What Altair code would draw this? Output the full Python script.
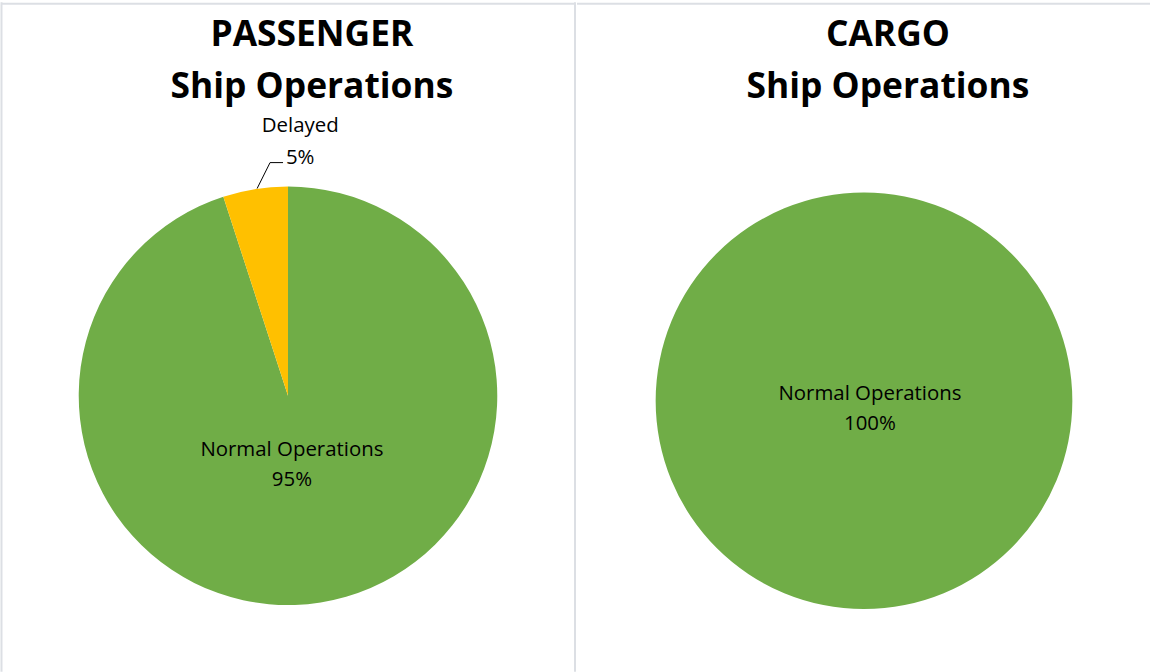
import altair as alt
import pandas as pd

# ---- data ----
categories = ["Normal Operations", "Delayed"]
passenger_values = [95, 5]
cargo_categories = ["Normal Operations"]
cargo_values = [100]
titles = [["PASSENGER", "Ship Operations"], ["CARGO", "Ship Operations"]]
colors = ["#70AD47", "#FFC000"]

FONT = "Open Sans"
BORDER = "#dcdfe4"


def make_df(cats, vals):
    df = pd.DataFrame({"category": cats, "value": vals})
    df["idx"] = range(len(df))
    return df


def panel(df, title_lines, cx, cy, r, inner_r, inner_dx, inner_dy, width, left_border):
    base = alt.Chart(df).encode(
        theta=alt.Theta("value:Q", stack=True),
        order=alt.Order("idx:Q"),
        x=alt.value(cx),
        y=alt.value(cy),
    )
    arc = base.mark_arc(outerRadius=r).encode(
        color=alt.Color(
            "category:N",
            scale=alt.Scale(domain=categories, range=colors),
            legend=None,
        )
    )
    inner = base.transform_calculate(
        lab="datum.category == 'Normal Operations' ? datum.category + '\\n' + datum.value + '%' : ''"
    ).mark_text(
        radius=inner_r, dx=inner_dx, dy=inner_dy, font=FONT, fontSize=20.5,
        color="#000000", lineBreak="\n", lineHeight=30, baseline="middle",
    ).encode(text="lab:N")
    outer = base.transform_calculate(
        lab="datum.category == 'Delayed' ? datum.category + '\\n' + datum.value + '%' : ''"
    ).mark_text(
        radius=254, dx=52, dy=-20, font=FONT, fontSize=20.5,
        color="#000000", lineBreak="\n", lineHeight=32, baseline="middle",
    ).encode(text="lab:N")

    tdf = pd.DataFrame({"t": ["\n".join(title_lines)]})
    title = alt.Chart(tdf).mark_text(
        font=FONT, fontSize=35.5, fontWeight="bold", color="#000000",
        lineBreak="\n", lineHeight=52, baseline="middle",
    ).encode(text="t:N", x=alt.value(cx + 24), y=alt.value(33))

    top = alt.Chart(tdf).mark_rule(color=BORDER, strokeWidth=2).encode(
        x=alt.value(0), x2=alt.value(width), y=alt.value(1.5)
    )
    layers = [arc, inner, outer, title, top]
    if left_border:
        layers.append(
            alt.Chart(tdf).mark_rule(color=BORDER, strokeWidth=2).encode(
                x=alt.value(0.5), y=alt.value(0), y2=alt.value(672)
            )
        )
        layers.append(
            alt.Chart(tdf).mark_rule(color=BORDER, strokeWidth=2).encode(
                x=alt.value(576), y=alt.value(0), y2=alt.value(672)
            )
        )
    return alt.layer(*layers).properties(width=width, height=672)


pdf = make_df(categories, passenger_values)
cdf = make_df(cargo_categories, cargo_values)

left = panel(pdf, titles[0], 288, 395, 210, 70, -7, -15, 576, True)
right_base = panel(cdf, titles[1], 288, 400, 209, 0, 6, -7, 575, False)

# leader line for the "Delayed" label
leader_df = pd.DataFrame({"k": [0]})
leader1 = alt.Chart(leader_df).mark_rule(color="#000000", strokeWidth=1).encode(
    x=alt.value(257), y=alt.value(187), x2=alt.value(270), y2=alt.value(161)
)
leader2 = alt.Chart(leader_df).mark_rule(color="#000000", strokeWidth=1).encode(
    x=alt.value(270), y=alt.value(161), x2=alt.value(283), y2=alt.value(161)
)
left = alt.layer(left, leader1, leader2)

chart = alt.hconcat(left, right_base, spacing=0).properties(
    padding=0, background="#ffffff"
).configure_view(strokeWidth=0)

chart.save("out.html", embed_options={"renderer": "svg", "actions": False})
